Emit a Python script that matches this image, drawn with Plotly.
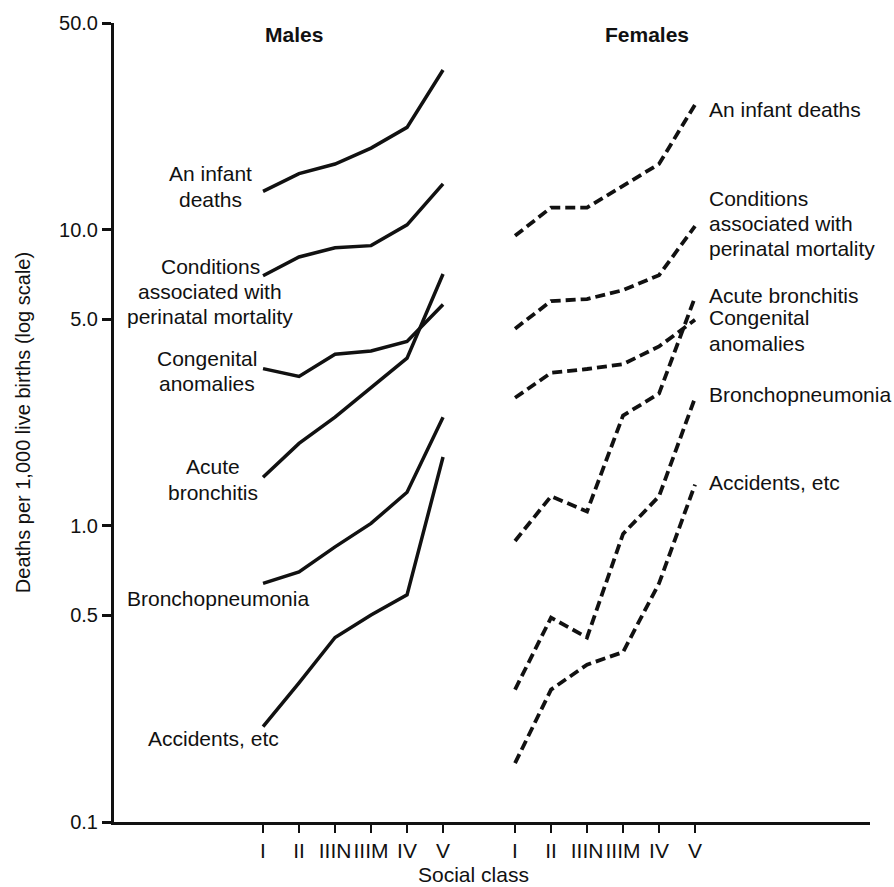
import plotly.graph_objects as go
import math

classes = ["I", "II", "IIIN", "IIIM", "IV", "V"]

male_infant = [13.5, 15.5, 16.7, 18.9, 22.2, 34.7]
male_perinatal = [7.0, 8.1, 8.7, 8.85, 10.4, 14.3]
male_congenital = [3.4, 3.2, 3.8, 3.9, 4.2, 5.6]
male_bronchitis = [1.46, 1.9, 2.33, 2.93, 3.69, 7.1]
male_bronchopneumonia = [0.64, 0.70, 0.85, 1.02, 1.30, 2.33]
male_accidents = [0.21, 0.295, 0.42, 0.50, 0.585, 1.71]

female_infant = [9.55, 11.9, 11.9, 14.1, 16.7, 26.5]
female_perinatal = [4.64, 5.75, 5.84, 6.26, 7.03, 10.3]
female_congenital = [2.71, 3.29, 3.39, 3.52, 4.04, 4.97]
female_bronchitis = [0.89, 1.26, 1.12, 2.36, 2.8, 5.93]
female_bronchopneumonia = [0.28, 0.49, 0.42, 0.94, 1.26, 2.71]
female_accidents = [0.158, 0.28, 0.34, 0.375, 0.64, 1.38]

y_ticks = [0.1, 0.5, 1.0, 5.0, 10.0, 50.0]
y_tick_labels = ["0.1", "0.5", "1.0", "5.0", "10.0", "50.0"]

male_label_lines = [
    ["An infant", "deaths"],
    ["Conditions", "associated with", "perinatal mortality"],
    ["Congenital", "anomalies"],
    ["Acute", "bronchitis"],
    ["Bronchopneumonia"],
    ["Accidents, etc"],
]
female_label_lines = [
    ["An infant deaths"],
    ["Conditions", "associated with", "perinatal mortality"],
    ["Acute bronchitis"],
    ["Congenital", "anomalies"],
    ["Bronchopneumonia"],
    ["Accidents, etc"],
]

FONT = "Liberation Sans, Arial, Helvetica, sans-serif"
FS = 21

W, H = 894, 887
ML, MR, MT, MB = 114, 24, 12, 65

n = len(classes)
male_x = list(range(n))
female_x = [i + n + 1 for i in range(n)]
xr = [-4.14, 16.86]
yr = [math.log10(0.1), math.log10(50)]

fig = go.Figure()
males = [male_infant, male_perinatal, male_congenital, male_bronchitis,
         male_bronchopneumonia, male_accidents]
females = [female_infant, female_perinatal, female_congenital, female_bronchitis,
           female_bronchopneumonia, female_accidents]
for s in males:
    fig.add_trace(go.Scatter(x=male_x, y=s, mode="lines",
                             line=dict(color="#111111", width=3.5),
                             showlegend=False))
for s in females:
    fig.add_trace(go.Scatter(x=female_x, y=s, mode="lines",
                             line=dict(color="#111111", width=3.8, dash="10px,5px"),
                             showlegend=False))

pw = W - ML - MR
ph = H - MT - MB

def px2paper(px, py):
    return (px - ML) / pw, 1 - (py - MT) / ph

anns = []
LS = 25.5
# (centre x, first-line y) for male labels; (left x, first-line y) for female labels
male_label_pos = [(210, 165), (210, 259), (207, 352), (213, 462), (218, 595), (213, 737)]
for lines, (cx, y0) in zip(male_label_lines, male_label_pos):
    for j, t in enumerate(lines):
        xp, yp = px2paper(cx, y0 + j * LS)
        anns.append(dict(x=xp, y=yp, xref="paper", yref="paper", text=t,
                         showarrow=False, xanchor="center", yanchor="middle",
                         font=dict(size=FS, color="#111111", family=FONT)))
female_label_pos = [(707, 100), (707, 190), (707, 288), (707, 311), (707, 389), (707, 478)]
for lines, (lx, y0) in zip(female_label_lines, female_label_pos):
    for j, t in enumerate(lines):
        xp, yp = px2paper(lx, y0 + j * LS)
        anns.append(dict(x=xp, y=yp, xref="paper", yref="paper", text=t,
                         showarrow=False, xanchor="left", yanchor="middle",
                         font=dict(size=FS, color="#111111", family=FONT)))

for t, (cx, cy) in [("<b>Males</b>", (294, 24)), ("<b>Females</b>", (647, 24))]:
    xp, yp = px2paper(cx, cy)
    anns.append(dict(x=xp, y=yp, xref="paper", yref="paper", text=t,
                     showarrow=False, xanchor="center", yanchor="middle",
                     font=dict(size=FS, color="#111111", family=FONT)))

xp, yp = px2paper(473, 875)
anns.append(dict(x=xp, y=yp, xref="paper", yref="paper", text="Social class",
                 showarrow=False, xanchor="center", yanchor="middle",
                 font=dict(size=FS, color="#111111", family=FONT)))

fig.update_layout(
    width=W, height=H,
    margin=dict(l=ML, r=MR, t=MT, b=MB, pad=0),
    paper_bgcolor="white", plot_bgcolor="white",
    font=dict(family=FONT, size=FS, color="#111111"),
    annotations=anns,
    xaxis=dict(range=xr, tickmode="array", tickvals=male_x + female_x,
               ticktext=classes + classes, ticks="outside", ticklen=8,
               tickwidth=2, tickcolor="#111111", showline=True, linewidth=3,
               linecolor="#111111", showgrid=False, zeroline=False,
               tickfont=dict(size=FS, family=FONT, color="#111111")),
    yaxis=dict(type="log", range=yr, tickmode="array", tickvals=y_ticks,
               ticktext=y_tick_labels, ticks="outside", ticklen=9, tickwidth=3,
               tickcolor="#111111", showline=True, linewidth=3,
               linecolor="#111111", showgrid=False, zeroline=False,
               tickfont=dict(size=20, family=FONT, color="#111111"),
               title=dict(text="Deaths per 1,000 live births (log scale)",
                          font=dict(size=20, family=FONT, color="#111111"),
                          standoff=24)),
)

fig.write_html("out.html")
